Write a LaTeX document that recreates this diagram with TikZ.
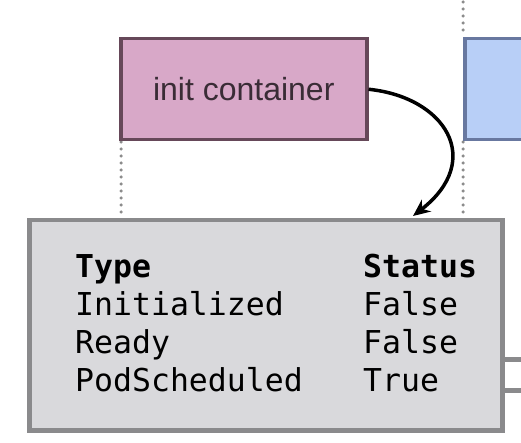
\documentclass[tikz,border=0pt]{standalone}
\usepackage{fontspec}
\setmainfont{Liberation Sans}
\setmonofont{DejaVu Sans Mono}
\usetikzlibrary{arrows.meta}
\definecolor{pinkfill}{HTML}{D8A8C8}
\definecolor{pinkdraw}{HTML}{664859}
\definecolor{bluefill}{HTML}{B8CFF7}
\definecolor{bluedraw}{HTML}{6878A0}
\definecolor{greyfill}{HTML}{D9D9DC}
\definecolor{greydraw}{HTML}{8A8A8C}
\definecolor{dotgrey}{HTML}{8C8C8C}
\definecolor{txtgrey}{HTML}{3A2C36}
\tikzset{
  pinkbox/.style={draw=pinkdraw, fill=pinkfill, line width=3.5pt},
  bluebox/.style={draw=bluedraw, fill=bluefill, line width=3.5pt},
  greybox/.style={draw=greydraw, fill=greyfill, line width=4.5pt},
  dotline/.style={draw=dotgrey, line width=3.5pt, line cap=round, dash pattern=on 0pt off 7pt},
  tabtxt/.style={font=\fontsize{31.5}{38}\selectfont\ttfamily, anchor=base west, inner sep=0pt},
  link/.style={draw=black, line width=3.5pt, -{Stealth[length=17pt,width=15pt]}},
  sidebar/.style={draw=greydraw, line width=5pt}
}
\begin{document}
\begin{tikzpicture}[x=1pt,y=-1pt]
\useasboundingbox (0,0) rectangle (521,443);
\clip (0,0) rectangle (521,443);
\fill[white] (0,0) rectangle (521,443);
% dotted lines
\coordinate (d1t) at (121,142); \coordinate (d1b) at (121,216);
\coordinate (d2a) at (463,2); \coordinate (d2b) at (463,37);
\coordinate (d2c) at (463,142); \coordinate (d2d) at (463,214);
\draw[dotline] (d1t) -- (d1b);
\draw[dotline] (d2a) -- (d2b);
\draw[dotline] (d2c) -- (d2d);
% side bars
\coordinate (s1) at (521,359); \coordinate (s2) at (521,390);
% boxes
\node[pinkbox, minimum width=246pt, minimum height=101pt, anchor=north west, inner sep=0pt,
  font=\fontsize{32}{36}\selectfont, text=txtgrey] (init) at (119,37) {init container};
\node[bluebox, minimum width=120pt, minimum height=101pt, anchor=north west, inner sep=0pt] (main) at (463,37) {};
\draw[sidebar] (490,359) -- (s1);
\draw[sidebar] (490,390) -- (s2);
\node[greybox, minimum width=473pt, minimum height=210pt, anchor=north west, inner sep=0pt] (cond) at (27,218) {};
% table
\node[tabtxt] (h1) at (75,277) {\bfseries Type};
\node[tabtxt] (h2) at (363,277) {\bfseries Status};
\node[tabtxt] (r1a) at (75,315) {Initialized};
\node[tabtxt] (r1b) at (363,315) {False};
\node[tabtxt] (r2a) at (75,353) {Ready};
\node[tabtxt] (r2b) at (363,353) {False};
\node[tabtxt] (r3a) at (75,391) {PodScheduled};
\node[tabtxt] (r3b) at (363,391) {True};
% arrow
\coordinate (tip) at (413,216);
\draw[link] (init.east) .. controls (445,97) and (485,160) .. (tip);
\end{tikzpicture}
\end{document}
